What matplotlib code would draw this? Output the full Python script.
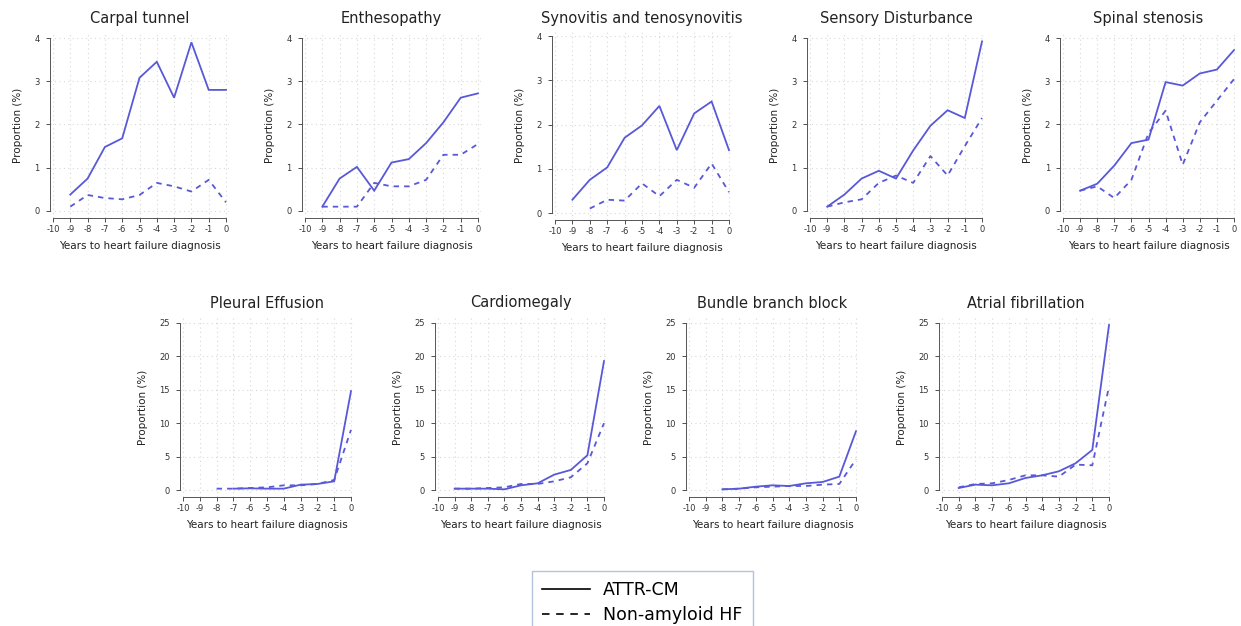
import matplotlib
matplotlib.use("Agg")
import matplotlib.pyplot as plt
from matplotlib.lines import Line2D
import numpy as np

plt.rcParams["axes.unicode_minus"] = False

years = [-9, -8, -7, -6, -5, -4, -3, -2, -1, 0]
titles = ["Carpal tunnel", "Enthesopathy", "Synovitis and tenosynovitis",
          "Sensory Disturbance", "Spinal stenosis",
          "Pleural Effusion", "Cardiomegaly", "Bundle branch block", "Atrial fibrillation"]

N = np.nan
attr_carpal = [0.38, 0.75, 1.48, 1.68, 3.08, 3.45, 2.62, 3.90, 2.80, 2.80]
nonam_carpal = [0.10, 0.37, 0.30, 0.27, 0.37, 0.65, 0.57, 0.45, 0.72, 0.20]
attr_enthes = [0.10, 0.75, 1.02, 0.47, 1.12, 1.20, 1.57, 2.05, 2.62, 2.72]
nonam_enthes = [0.10, 0.10, 0.10, 0.65, 0.57, 0.57, 0.72, 1.30, 1.30, 1.55]
attr_synov = [0.30, 0.75, 1.03, 1.70, 1.98, 2.42, 1.42, 2.25, 2.52, 1.42]
nonam_synov = [N, 0.10, 0.30, 0.28, 0.67, 0.38, 0.75, 0.57, 1.12, 0.47]
attr_sensory = [0.10, 0.38, 0.75, 0.93, 0.75, 1.40, 1.97, 2.33, 2.15, 3.92]
nonam_sensory = [0.10, 0.20, 0.27, 0.65, 0.82, 0.65, 1.27, 0.82, 1.50, 2.15]
attr_spinal = [0.47, 0.63, 1.05, 1.57, 1.65, 2.98, 2.90, 3.18, 3.27, 3.72]
nonam_spinal = [0.47, 0.57, 0.30, 0.72, 1.80, 2.32, 1.07, 2.05, 2.55, 3.05]
attr_pleural = [N, N, 0.2, 0.25, 0.2, 0.2, 0.8, 0.9, 1.3, 14.8]
nonam_pleural = [N, 0.2, 0.2, 0.3, 0.4, 0.7, 0.7, 0.9, 1.5, 9.0]
attr_cardio = [0.2, 0.2, 0.2, 0.1, 0.7, 1.0, 2.3, 3.0, 5.2, 19.3]
nonam_cardio = [0.2, 0.2, 0.3, 0.4, 0.9, 0.9, 1.3, 1.9, 4.0, 10.0]
attr_bundle = [N, 0.1, 0.2, 0.5, 0.7, 0.6, 1.0, 1.2, 2.0, 8.8]
nonam_bundle = [N, 0.1, 0.2, 0.4, 0.5, 0.6, 0.6, 0.8, 0.9, 4.6]
attr_afib = [0.3, 0.8, 0.7, 1.0, 1.8, 2.2, 2.8, 4.0, 6.0, 24.7]
nonam_afib = [0.4, 0.9, 1.0, 1.5, 2.2, 2.2, 2.0, 3.8, 3.7, 15.5]

attr_all = [attr_carpal, attr_enthes, attr_synov, attr_sensory, attr_spinal,
            attr_pleural, attr_cardio, attr_bundle, attr_afib]
nonam_all = [nonam_carpal, nonam_enthes, nonam_synov, nonam_sensory, nonam_spinal,
             nonam_pleural, nonam_cardio, nonam_bundle, nonam_afib]
yticks_top = [0, 1, 2, 3, 4]
yticks_bottom = [0, 5, 10, 15, 20, 25]
xticks = list(range(-10, 1))

W, H = 1241, 626
# pixel positions: (x at -10, x at 0, y-pixel of ymax, y-pixel of 0)
layout = [(53, 226, 38, 211), (305, 478, 38, 211), (555, 729, 36, 213),
          (810, 982, 38, 211), (1063, 1234, 38, 211),
          (183, 351, 323, 490), (438, 604, 323, 490), (689, 856, 323, 490),
          (942, 1109, 323, 490)]
title_y = [18, 18, 18, 18, 18, 303, 303, 303, 303]

line_color = "#5858d8"
fig = plt.figure(figsize=(W / 100, H / 100), dpi=100)

for i, (a, b, top, bot) in enumerate(layout):
    yt = yticks_top if i < 5 else yticks_bottom
    ymax = yt[-1]
    xlo, xhi = -10.2, 0.2
    ylo, yhi = -0.04 * ymax, 1.03 * ymax
    u = (b - a) / 10.0
    v = (bot - top) / ymax
    left = a - 0.2 * u
    right = b + 0.2 * u
    ax_top = top - 0.03 * ymax * v
    ax_bot = bot + 0.04 * ymax * v
    ax = fig.add_axes([left / W, 1 - ax_bot / H, (right - left) / W, (ax_bot - ax_top) / H])
    ax.set_xlim(xlo, xhi)
    ax.set_ylim(ylo, yhi)
    ax.plot(years, attr_all[i], color=line_color, lw=1.3, solid_joinstyle="miter")
    ax.plot(years, nonam_all[i], color=line_color, lw=1.3, ls=(0, (3, 2.8)))
    ax.set_xticks(xticks)
    ax.set_yticks(yt)
    ax.grid(True, color="#d8d8d8", ls=(0, (1, 3)), lw=0.8)
    ax.set_axisbelow(True)
    for s in ["top", "right"]:
        ax.spines[s].set_visible(False)
    ax.spines["bottom"].set_bounds(-10, 0)
    ax.spines["left"].set_bounds(0, ymax)
    for s in ["bottom", "left"]:
        ax.spines[s].set_color("#555555")
        ax.spines[s].set_linewidth(0.7)
    ax.tick_params(axis="both", labelsize=6, colors="#333333", length=3, width=0.6)
    ax.tick_params(axis="x", pad=2)
    ax.tick_params(axis="y", pad=4)
    ax.set_xlabel("Years to heart failure diagnosis", fontsize=7.5, color="#222222", labelpad=5)
    ax.set_ylabel("Proportion (%)", fontsize=7.5, color="#222222", labelpad=8)
    fig.text((a + b) / 2 / W, 1 - title_y[i] / H, titles[i], fontsize=10.5,
             color="#222222", ha="center", va="center")

handles = [Line2D([0], [0], color="black", lw=1.2),
           Line2D([0], [0], color="black", lw=1.2, ls=(0, (4.5, 4)))]
leg = fig.legend(handles, ["ATTR-CM", "Non-amyloid HF"], loc="upper left",
                 bbox_to_anchor=(532 / W, 1 - 571 / H), fontsize=12.5,
                 frameon=True, fancybox=False, handlelength=2.76, borderpad=0.6,
                 labelspacing=0.38, handletextpad=0.75, borderaxespad=0)
leg.get_frame().set_edgecolor("#9fb4d4")
leg.get_frame().set_linewidth(1.0)

fig.savefig("out.png", dpi=100)
